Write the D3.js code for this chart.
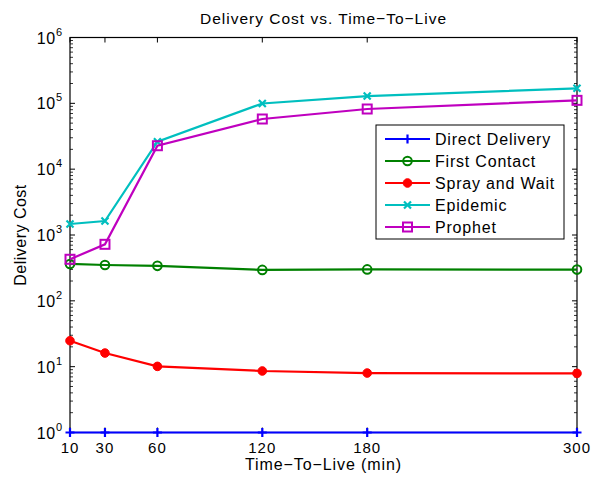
<!DOCTYPE html>
<html><head><meta charset="utf-8">
<script src="https://cdn.jsdelivr.net/npm/d3@7"></script>
<style>body{margin:0;background:#fff}svg{display:block}text{font-family:"Liberation Sans",Arial,sans-serif}</style>
</head><body><svg id="c" width="603" height="478"></svg>
<script>
const ttl = [10, 30, 60, 120, 180, 300];
const xTicks = [10, 30, 60, 120, 180, 300];
const yTickExp = [0, 1, 2, 3, 4, 5, 6];
const directDelivery = [1, 1, 1, 1, 1, 1];
const firstContact = [363, 350, 340, 295, 300, 298];
const sprayAndWait = [24.8, 16.1, 10.1, 8.6, 8.0, 7.9];
const epidemic = [1470, 1630, 26100, 99500, 129000, 169000];
const prophet = [428, 722, 22700, 57800, 82000, 111000];
const seriesNames = ["Direct Delivery", "First Contact", "Spray and Wait", "Epidemic", "Prophet"];
const seriesColors = ["#0000ff", "#008000", "#ff0000", "#00bfbf", "#bf00bf"];
const seriesMarkers = ["plus", "circle", "dot", "x", "square"];
const seriesValues = [directDelivery, firstContact, sprayAndWait, epidemic, prophet];

const svg = d3.select("#c");
const L = 70, R = 577, T = 37.5, B = 432.5;
const x = d3.scaleLinear().domain([10, 300]).range([L, R]);
const y = d3.scaleLog().domain([1, 1e6]).range([B, T]);

// minor ticks
const minor = [];
for (let e = 0; e < 6; e++) for (let k = 2; k <= 9; k++) minor.push(k * Math.pow(10, e));
const g = svg.append("g");
minor.forEach(v => {
  g.append("line").attr("x1", L).attr("x2", L + 3).attr("y1", y(v)).attr("y2", y(v)).attr("stroke", "#000").attr("stroke-width", 0.8);
  g.append("line").attr("x1", R).attr("x2", R - 3).attr("y1", y(v)).attr("y2", y(v)).attr("stroke", "#000").attr("stroke-width", 0.8);
});
yTickExp.forEach(e => {
  const v = Math.pow(10, e);
  g.append("line").attr("x1", L).attr("x2", L + 5).attr("y1", y(v)).attr("y2", y(v)).attr("stroke", "#000");
  g.append("line").attr("x1", R).attr("x2", R - 5).attr("y1", y(v)).attr("y2", y(v)).attr("stroke", "#000");
  const t = g.append("text").attr("x", L - 7).attr("y", y(v) + 6).attr("text-anchor", "end").attr("font-size", 16).attr("letter-spacing", 0.8);
  t.append("tspan").text("10");
  t.append("tspan").attr("font-size", 11).attr("dy", -8).text(e);
});
xTicks.forEach(v => {
  g.append("line").attr("x1", x(v)).attr("x2", x(v)).attr("y1", B).attr("y2", B - 5).attr("stroke", "#000");
  g.append("line").attr("x1", x(v)).attr("x2", x(v)).attr("y1", T).attr("y2", T + 5).attr("stroke", "#000");
  g.append("text").attr("x", x(v)).attr("y", B + 20).attr("text-anchor", "middle").attr("font-size", 15).attr("letter-spacing", 1).text(v);
});
svg.append("rect").attr("x", L).attr("y", T).attr("width", R - L).attr("height", B - T).attr("fill", "none").attr("stroke", "#000").attr("stroke-width", 1.2);

function marker(sel, type, color, cx, cy) {
  if (type === "plus") {
    sel.append("path").attr("d", `M${cx-4.5},${cy}H${cx+4.5}M${cx},${cy-4.5}V${cy+4.5}`).attr("stroke", color).attr("stroke-width", 2.2);
  } else if (type === "circle") {
    sel.append("circle").attr("cx", cx).attr("cy", cy).attr("r", 4.3).attr("fill", "none").attr("stroke", color).attr("stroke-width", 2);
  } else if (type === "dot") {
    sel.append("circle").attr("cx", cx).attr("cy", cy).attr("r", 4.3).attr("fill", color).attr("stroke", color).attr("stroke-width", 1);
  } else if (type === "x") {
    sel.append("path").attr("d", `M${cx-3.5},${cy-3.5}L${cx+3.5},${cy+3.5}M${cx-3.5},${cy+3.5}L${cx+3.5},${cy-3.5}`).attr("stroke", color).attr("stroke-width", 2.2);
  } else if (type === "square") {
    sel.append("rect").attr("x", cx - 4.5).attr("y", cy - 4.5).attr("width", 9).attr("height", 9).attr("fill", "none").attr("stroke", color).attr("stroke-width", 2);
  }
}

const line = d3.line().x((d, i) => x(ttl[i])).y(d => y(d));
seriesValues.forEach((vals, si) => {
  const sg = svg.append("g");
  sg.append("path").datum(vals).attr("d", line).attr("fill", "none").attr("stroke", seriesColors[si]).attr("stroke-width", 2.2);
  vals.forEach((v, i) => marker(sg, seriesMarkers[si], seriesColors[si], x(ttl[i]), y(v)));
});

// legend
const lg = svg.append("g");
lg.append("rect").attr("x", 376).attr("y", 125).attr("width", 188).attr("height", 114).attr("fill", "#fff").attr("stroke", "#000").attr("stroke-width", 1);
seriesNames.forEach((n, i) => {
  const yy = 139 + i * 22;
  lg.append("line").attr("x1", 385).attr("x2", 430).attr("y1", yy).attr("y2", yy).attr("stroke", seriesColors[i]).attr("stroke-width", 2.2);
  marker(lg, seriesMarkers[i], seriesColors[i], 407.5, yy);
  lg.append("text").attr("x", 435).attr("y", yy + 6).attr("font-size", 16).attr("letter-spacing", 0.8).text(n);
});

svg.append("text").attr("x", (L + R) / 2).attr("y", 24).attr("text-anchor", "middle").attr("font-size", 15.5).attr("letter-spacing", 1).text("Delivery Cost vs. Time\u2212To\u2212Live");
svg.append("text").attr("x", (L + R) / 2).attr("y", 470).attr("text-anchor", "middle").attr("font-size", 16).attr("letter-spacing", 0.9).text("Time\u2212To\u2212Live (min)");
svg.append("text").attr("transform", `translate(26,${(T + B) / 2}) rotate(-90)`).attr("text-anchor", "middle").attr("font-size", 16).attr("letter-spacing", 0.5).text("Delivery Cost");
</script></body></html>
